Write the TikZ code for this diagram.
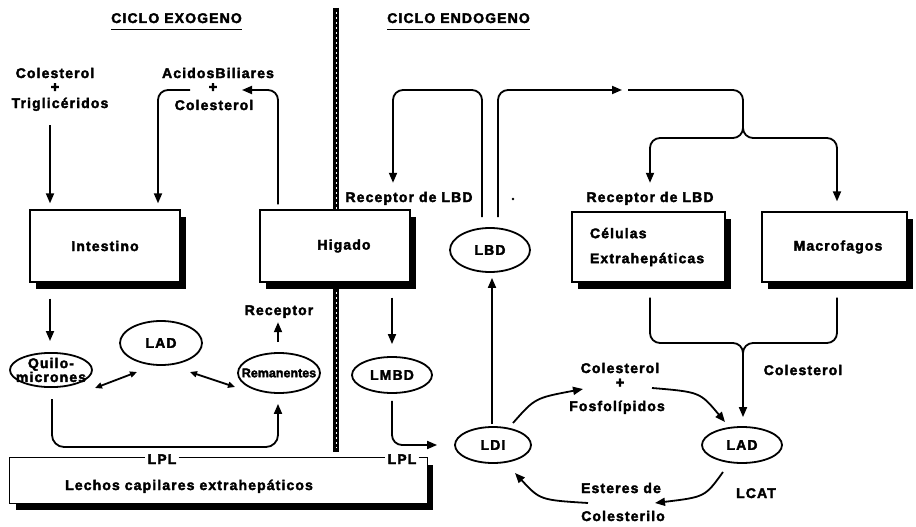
\documentclass[tikz,border=0pt]{standalone}
\usepackage{fontspec}
\setmainfont{Liberation Sans}[LetterSpace=8, BoldFeatures={FakeBold=2.5}]
\usetikzlibrary{shapes.geometric,arrows.meta,shadows,calc}
\newcommand{\zw}[1]{\makebox[0pt]{#1}}
\begin{document}
\begin{tikzpicture}[x=1pt,y=-1pt,
  t/.style={font=\bfseries\fontsize{14}{14}\selectfont, inner sep=0pt, text height=10pt, text depth=0pt},
  box/.style={draw, line width=1.3pt, fill=white, inner sep=0pt, font=\bfseries\fontsize{14}{25}\selectfont,
    general shadow={fill=black, shadow xshift=6pt, shadow yshift=-7pt}},
  ell/.style={draw, ellipse, line width=1.8pt, inner sep=0pt, font=\bfseries\fontsize{14}{11}\selectfont, align=center},
  ln/.style={line width=1.8pt, rounded corners=10pt},
  arr/.style={ln, -{Triangle[length=10pt,width=8pt]}},
  darr/.style={line width=1.8pt, {Triangle[length=7pt,width=6pt]}-{Triangle[length=7pt,width=6pt]}},
  plus/.style={font=\bfseries\fontsize{15}{15}\selectfont, inner sep=0pt, text height=7pt, text depth=0pt},
]
\fill[white] (0,0) rectangle (916,527);
\useasboundingbox (0,0) rectangle (916,527);

% x reference coordinates
\coordinate (X50) at (50,0);
\coordinate (X52) at (52,0);
\coordinate (X158) at (158,0);
\coordinate (X278) at (278,0);
\coordinate (X393) at (393,0);
\coordinate (X482) at (482,0);
\coordinate (X492) at (492,0);
\coordinate (X498) at (498,0);
\coordinate (X650) at (650,0);
\coordinate (X743) at (743,0);
\coordinate (X837) at (837,0);

% headings
\node[t] (exo) at (176.5,18) {CICLO EXOGENO};
\node[t] (endo) at (458.5,18) {CICLO ENDOGENO};
\draw[line width=1.4pt] ([yshift=-6.5pt]exo.south west) -- ([yshift=-6.5pt]exo.south east);
\draw[line width=1.4pt] ([yshift=-6.5pt]endo.south west) -- ([yshift=-6.5pt]endo.south east);

% separator
\draw[line width=6.5pt] (336,8) -- (336,452);
\draw[white, line width=0.9pt, dash pattern=on 2pt off 3pt] (336,12) -- (336,448);

% top left texts
\node[t] (col1) at (55,73) {Colesterol};
\node[plus] (plus1) at (55,88.5) {+};
\node[t] (trig) at (60,103) {Triglicéridos};
\node[t] (bil) at (218,73) {AcidosBiliares};
\node[plus] (plus2) at (213,88.5) {+};
\node[t] (col2) at (214,105) {Colesterol};

% boxes
\node[box, minimum width=150pt, minimum height=72pt] (intes) at (105,246) {Intestino};
\node[box, minimum width=150pt, minimum height=72pt] (hig) at (335,246) {\hspace*{18pt}Higado};
\node[box, minimum width=153pt, minimum height=70pt, text width=117pt, align=left] (cel) at (648.5,247) {Células\\Extrahepáticas};
\node[box, minimum width=145pt, minimum height=70pt] (mac) at (834.5,247) {\hspace*{7pt}Macrofagos};

% capillary box
\node[box, draw=none, minimum width=417pt, minimum height=45pt] (cap) at (218.5,480.5) {};
\node[t, anchor=west] (lechos) at (65,485) {Lechos capilares extrahepáticos};
\node[t, inner xsep=2pt] (lpl1) at (162,459) {LPL};
\node[t, inner xsep=2pt] (lpl2) at (402,459) {LPL};
\draw[line width=1.3pt] (cap.north west) -- (lpl1.west |- cap.north);
\draw[line width=1.3pt] (lpl1.east |- cap.north) -- (lpl2.west |- cap.north);
\draw[line width=1.3pt] (lpl2.east |- cap.north) -- (cap.north east) -- (cap.south east) -- (cap.south west) -- (cap.north west);

% ellipses
\node[ell, minimum width=82pt, minimum height=34pt] (quilo) at (51,370) {\zw{Quilo-}\\\zw{micrones}};
\node[ell, minimum width=82pt, minimum height=44pt] (ladl) at (161,343) {LAD};
\node[ell, minimum width=82pt, minimum height=40pt, font=\bfseries\fontsize{12.5}{11}\selectfont\addfontfeature{LetterSpace=0}] (rem) at (279,373) {\zw{Remanentes}};
\node[ell, minimum width=80pt, minimum height=36pt] (lmbd) at (392,375) {LMBD};
\node[ell, minimum width=80pt, minimum height=44pt] (lbd) at (490,250) {LBD};
\node[ell, minimum width=76pt, minimum height=36pt] (ldi) at (493,445) {LDI};
\node[ell, minimum width=80pt, minimum height=36pt] (ladr) at (742,445) {LAD};

% other labels
\node[t] (recep1) at (279,310) {Receptor};
\node[t] (recepL) at (409,197) {Receptor de LBD};
\node[t] (recepR) at (650,197) {Receptor de LBD};
\node[t] (colR) at (803,370) {Colesterol};
\node[t] (colC) at (620,368) {Colesterol};
\node[plus] (plusC) at (620,384) {+};
\node[t] (fos) at (617,406) {Fosfolípidos};
\node[t] (est) at (621,488) {Esteres de};
\node[t] (colest) at (623,516) {Colesterilo};
\node[t] (lcat) at (756,493) {LCAT};
\fill (513,199) circle (1.4pt);

% free-end coordinates
\coordinate (b1) at (190,90);
\coordinate (b2) at (242,90);
\coordinate (c622) at (622,90);
\coordinate (c628) at (628,90);
\coordinate (q1) at (95,388);
\coordinate (q2) at (137,372);
\coordinate (r1) at (190,372);
\coordinate (r2) at (235,387);
\coordinate (k1) at (513,423);
\coordinate (k2) at (583,389);
\coordinate (k3) at (652,388);
\coordinate (k4) at (725,422);
\coordinate (k5) at (723,472);
\coordinate (k6) at (655,503);
\coordinate (k7) at (588,503);
\coordinate (k8) at (515,473);

% connectors, exogenous cycle
\draw[arr, shorten <=17pt, shorten >=6pt] (trig.south -| X50) -- (intes.north -| X50);
\draw[arr, shorten >=6pt] (b1) -- (158,90) -- (intes.north -| X158);
\draw[arr, shorten <=5pt] (hig.north -| X278) -- (278,90) -- (b2);
\draw[arr, shorten <=16pt, shorten >=11pt] (intes.south -| X50) -- (quilo.north -| X50);
\draw[arr, shorten <=10pt, shorten >=7pt] (rem.north -| X278) -- (recep1.south -| X278);
\draw[arr, rounded corners=12pt, shorten <=11pt, shorten >=10pt] (quilo.south -| X52) -- (52,447) -- (278,447) -- (rem.south -| X278);
\draw[darr] (q1) -- (q2);
\draw[darr] (r1) -- (r2);
\draw[arr, shorten <=15pt, shorten >=12pt] (hig.south -| lmbd) -- (lmbd.north);
\draw[arr, shorten <=7pt, shorten >=17pt] (lmbd.south) -- (392,445) -- (ldi.west);

% endogenous cycle
\draw[arr, shorten <=10pt, shorten >=9pt] (lbd.north -| X482) -- (482,90) -- (393,90) -- (recepL.north -| X393);
\draw[arr, shorten <=10pt] (lbd.north -| X498) -- (498,90) -- (c622);
\draw[arr, shorten >=9pt] (c628) -- (743,90) -- (743,138) -- (650,138) -- (recepR.north -| X650);
\draw[arr, shorten >=10pt] (743,110) -- (743,138) -- (837,138) -- (mac.north -| X837);
\draw[arr, shorten <=15pt, shorten >=9pt] (cel.south -| X650) -- (650,343) -- (743,343) -- (ladr.north -| X743);
\draw[ln, shorten <=15pt] (mac.south -| X837) -- (837,343) -- (743,343) -- (743,365);
\draw[arr, shorten <=2pt, shorten >=5pt] (ldi.north -| X492) -- (lbd.south -| X492);
\draw[arr] (k1) .. controls (535,398) .. (k2);
\draw[arr] (k3) .. controls (700,392) .. (k4);
\draw[arr] (k5) .. controls (705,497) .. (k6);
\draw[arr] (k7) .. controls (540,500) .. (k8);
\end{tikzpicture}
\end{document}
